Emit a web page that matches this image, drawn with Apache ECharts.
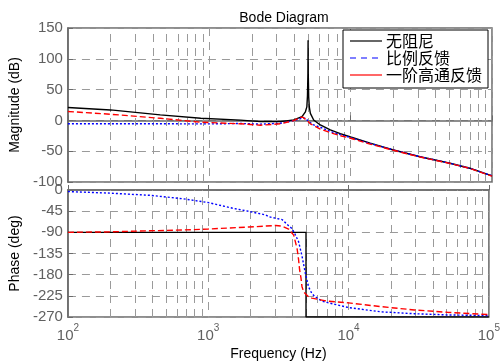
<!DOCTYPE html>
<html>
<head>
<meta charset="utf-8">
<script src="https://cdn.jsdelivr.net/npm/echarts@6/dist/echarts.min.js"></script>
<style>
  html, body { margin: 0; padding: 0; background: #fff; }
  #chart { width: 503px; height: 362px; }
</style>
</head>
<body>
<div id="chart"></div>
<script>
// series names (legend order)
const seriesNames = ['无阻尼', '比例反馈', '一阶高通反馈'];

// magnitude (dB), [frequency Hz, value]
const magUndamped = [
  [100, 21], [200, 17], [450, 9], [870, 3.5], [1665, 0.5], [2300, -2], [3185, -2],
  [3955, 0.7], [4530, 6], [4785, 14], [4900, 22], [4950, 40], [4985, 75], [5000, 130],
  [5015, 75], [5050, 38], [5100, 22], [5190, 11.5], [5475, 0.7], [6100, -7.4],
  [7180, -15.5], [8450, -21.5], [10000, -27], [13740, -37], [20100, -48],
  [31000, -59], [50500, -69.6], [69800, -77.7], [100000, -90]
];
const magProportional = [
  [100, -5.5], [500, -5.5], [1000, -5.7], [1665, -5], [2300, -6], [3185, -4.7],
  [3955, -0.3], [4530, 3.5], [4785, 3.5], [5050, -2], [5475, -7.4], [6100, -11],
  [7180, -18], [8450, -23], [10000, -28], [13740, -37.5], [20100, -48],
  [31000, -59], [50500, -69.6], [69800, -77.7], [100000, -90]
];
const magHighPass = [
  [100, 14.5], [200, 10], [450, 3.4], [870, -3], [1665, -5.5], [2300, -7.8],
  [3185, -5.5], [3955, -0.4], [4405, 4.9], [4600, 5], [4920, -0.4], [5190, -5.5],
  [6100, -14], [7180, -20], [8450, -24.8], [10000, -29], [13740, -38.5],
  [20100, -48.5], [31000, -59.5], [50500, -70], [69800, -78], [100000, -90.5]
];

// phase (deg)
const phaseUndamped = [
  [100, -90], [4975, -90], [4975, -270], [100000, -270]
];
const phaseProportional = [
  [100, -3.3], [200, -6.7], [385, -11.3], [662, -18.7], [1000, -26.7], [1494, -38.7],
  [1950, -45.5], [2566, -53], [2710, -57], [3365, -63], [3740, -76], [3955, -82],
  [4170, -95], [4405, -110], [4655, -140], [4920, -177], [5190, -206], [5475, -220],
  [5780, -227], [6450, -236], [7000, -239], [10000, -250], [17050, -259],
  [29400, -263], [50500, -265.6], [100000, -267]
];
const phaseHighPass = [
  [100, -90], [200, -89], [385, -86.7], [662, -85], [1000, -83], [1950, -78.7],
  [2566, -76.7], [3020, -75.5], [3365, -77], [3740, -83], [4065, -96], [4300, -125],
  [4400, -147], [4480, -170], [4580, -187], [4655, -205], [4790, -217], [4920, -221],
  [5190, -227], [5475, -230], [6450, -234], [7000, -236], [10000, -240],
  [17050, -248], [29400, -255], [50500, -260], [100000, -265]
];

// axes
const freqRange = [100, 100000];
const magTicks = { min: -100, max: 150, interval: 50 };
const phaseTicks = { min: -270, max: 0, interval: 45 };
const minorFreqs = [
  200, 300, 400, 500, 600, 700, 800, 900,
  2000, 3000, 4000, 5000, 6000, 7000, 8000, 9000,
  20000, 30000, 40000, 50000, 60000, 70000, 80000, 90000
];

const FONT = 'Liberation Sans, Arial, sans-serif';
const CJK = 'Noto Sans CJK SC, sans-serif';
const gridDash = { color: '#9a9a9a', width: 1, type: [8, 6] };
const boxLine = { color: '#6a6a6a', width: 1.5 };

const chart = echarts.init(document.getElementById('chart'), null, { renderer: 'canvas' });

function xAxisFor(gridIndex, showLabels) {
  return {
    type: 'log', logBase: 10, gridIndex: gridIndex,
    min: freqRange[0], max: freqRange[1],
    axisLine: { show: true, lineStyle: boxLine },
    axisTick: { show: true, inside: true, length: 5, lineStyle: { color: '#6a6a6a' } },
    splitLine: { show: true, lineStyle: gridDash },
    axisLabel: {
      show: showLabels,
      margin: 6,
      formatter: function (v) {
        return '{b|10}{s|' + Math.round(Math.log10(v)) + '}';
      },
      rich: {
        b: { fontSize: 15, fontFamily: FONT, color: '#606060', lineHeight: 20, verticalAlign: 'bottom' },
        s: { fontSize: 10, fontFamily: FONT, color: '#606060', lineHeight: 20, verticalAlign: 'top' }
      }
    },
    name: showLabels ? 'Frequency (Hz)' : '',
    nameLocation: 'middle',
    nameGap: 30,
    nameTextStyle: { fontSize: 14, fontFamily: FONT, color: '#000' }
  };
}

function yAxisFor(gridIndex, ticks, name) {
  return {
    type: 'value', gridIndex: gridIndex,
    min: ticks.min, max: ticks.max, interval: ticks.interval,
    axisLine: { show: true, lineStyle: boxLine },
    axisTick: { show: true, inside: true, length: 5, lineStyle: { color: '#6a6a6a' } },
    splitLine: { show: true, lineStyle: gridDash },
    axisLabel: { fontSize: 15, fontFamily: FONT, color: '#606060', margin: 5 },
    name: name,
    nameLocation: 'middle',
    nameRotate: 90,
    nameGap: 44,
    nameTextStyle: { fontSize: 14, fontFamily: FONT, color: '#000' }
  };
}

const minorLines = {
  silent: true,
  symbol: ['none', 'none'],
  label: { show: false },
  lineStyle: gridDash,
  emphasis: { disabled: true },
  data: minorFreqs.map(f => ({ xAxis: f }))
};

function lineSeries(name, data, idx, color, type, width, withMinor) {
  const s = {
    name: name, type: 'line',
    xAxisIndex: idx, yAxisIndex: idx,
    data: data, showSymbol: false, symbol: 'none',
    lineStyle: { color: color, width: width, type: type },
    itemStyle: { color: color },
    z: 3
  };
  if (withMinor) s.markLine = Object.assign({}, minorLines, { z: 1 });
  return s;
}

// legend drawn by hand: its line styles differ from the plotted curves
const legendX = 343, legendY = 30, rowGap = 17;
const legendStyles = [
  { stroke: '#000', lineDash: null },
  { stroke: '#0000ff', lineDash: [6, 5] },
  { stroke: '#ff0000', lineDash: null }
];
const legendChildren = [{
  type: 'rect', z: 100, zlevel: 1,
  shape: { x: legendX, y: legendY, width: 145, height: 58 },
  style: { fill: '#fff', stroke: '#000', lineWidth: 1 }
}];
seriesNames.forEach((n, i) => {
  const y = legendY + 11 + i * rowGap;
  legendChildren.push({
    type: 'line', z: 101, zlevel: 1,
    shape: { x1: legendX + 7, y1: y, x2: legendX + 39, y2: y },
    style: { stroke: legendStyles[i].stroke, lineWidth: 1.2, lineDash: legendStyles[i].lineDash }
  });
  legendChildren.push({
    type: 'text', z: 101, zlevel: 1,
    x: legendX + 43, y: y,
    style: { text: n, fill: '#000', font: '16px ' + CJK, verticalAlign: 'middle', textAlign: 'left' }
  });
});

const option = {
  animation: false,
  backgroundColor: '#fff',
  title: {
    text: 'Bode Diagram',
    left: 279, top: 6, textAlign: 'center',
    textStyle: { fontSize: 14, fontWeight: 'normal', fontFamily: FONT, color: '#000' }
  },
  grid: [
    { left: 67, top: 28, width: 425, height: 154, show: true, borderColor: '#6a6a6a', borderWidth: 1.5 },
    { left: 67, top: 190, width: 425, height: 135, show: true, borderColor: '#6a6a6a', borderWidth: 1.5 }
  ],
  xAxis: [xAxisFor(0, false), xAxisFor(1, true)],
  yAxis: [yAxisFor(0, magTicks, 'Magnitude (dB)'), yAxisFor(1, phaseTicks, 'Phase (deg)')],
  series: [
    lineSeries(seriesNames[0], magUndamped, 0, '#000', 'solid', 1.4, true),
    lineSeries(seriesNames[1], magProportional, 0, '#0000ff', [2, 2], 1.4, false),
    lineSeries(seriesNames[2], magHighPass, 0, '#ff0000', [6, 3], 1.4, false),
    lineSeries(seriesNames[0], phaseUndamped, 1, '#000', 'solid', 1.4, true),
    lineSeries(seriesNames[1], phaseProportional, 1, '#0000ff', [2, 2], 1.4, false),
    lineSeries(seriesNames[2], phaseHighPass, 1, '#ff0000', [6, 3], 1.4, false)
  ],
  graphic: legendChildren
};

chart.setOption(option);
</script>
</body>
</html>
